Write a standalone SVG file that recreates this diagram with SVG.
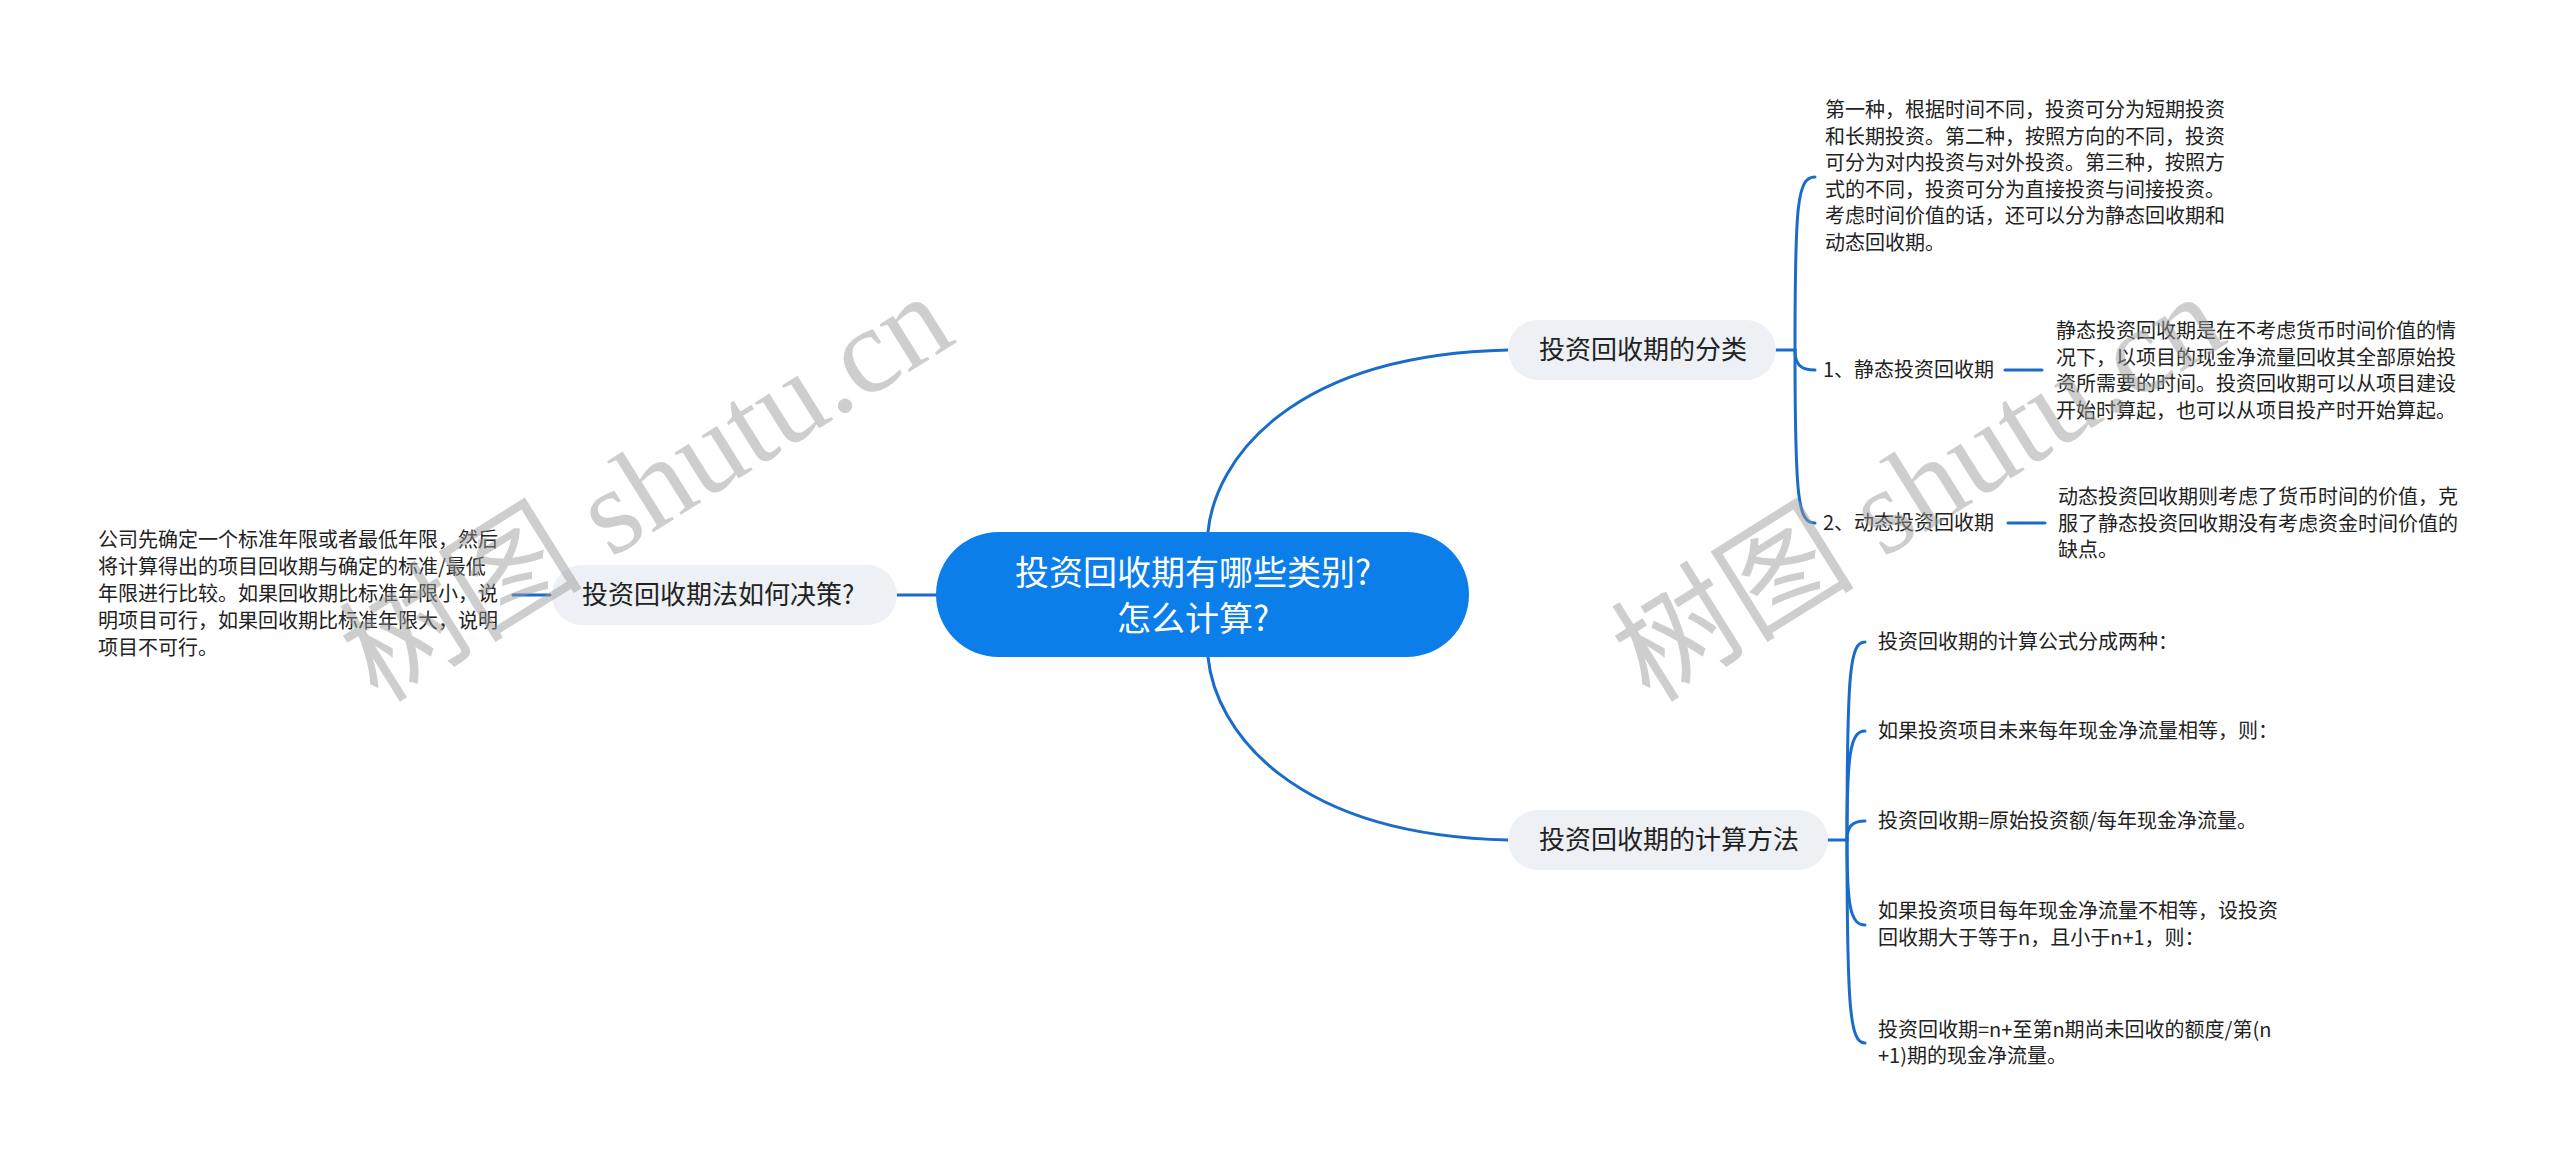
<svg xmlns="http://www.w3.org/2000/svg" width="2560" height="1162" viewBox="0 0 2560 1162">
<style>
text{font-family:"Noto Sans CJK SC","Noto Sans",sans-serif;fill:#222}
.d{font-size:20px}
.t{font-size:26px}
.c{font-size:34px;fill:#fff}
.topic{fill:#edf0f4}
.ln{fill:none;stroke:#1a6cca;stroke-width:3;stroke-linecap:round}
.wm{font-family:"Liberation Serif","Noto Sans CJK SC",serif;font-size:122px;fill:#9a9a9a;opacity:0.48}
</style>
<defs>
<clipPath id="wmclip"><rect x="0" y="0" width="2235" height="1162"/></clipPath>
</defs>
<rect width="2560" height="1162" fill="#fff"/>
<g id="connectors">
<path class="ln" d="M1208,532 C1215,460 1290,355 1508,350"/>
<path class="ln" d="M1208,657 C1215,729 1290,835 1508,840"/>
<path class="ln" d="M936,595 L897,595"/>
<path class="ln" d="M550,595 L513,595"/>
<path class="ln" d="M1776,350 L1795,350"/>
<path class="ln" d="M1795,350 C1795,205 1797,177 1815,177"/>
<path class="ln" d="M1795,350 C1795,364 1800,370 1815,370"/>
<path class="ln" d="M1795,350 C1795,500 1798,523 1815,523"/>
<path class="ln" d="M2005,370 L2042,370"/>
<path class="ln" d="M2008,523 L2045,523"/>
<path class="ln" d="M1827,840 L1847,840"/>
<path class="ln" d="M1847,840 C1847,670 1850,642 1865,642"/>
<path class="ln" d="M1847,840 C1847,755 1850,731 1865,731"/>
<path class="ln" d="M1847,840 C1847,828 1851,821 1865,821"/>
<path class="ln" d="M1847,840 C1847,905 1850,925 1865,925"/>
<path class="ln" d="M1847,840 C1847,1010 1850,1043 1865,1043"/>
</g>
<g id="central">
<rect x="936" y="532" width="533" height="125" rx="62.5" fill="#0c7ee9"/>
<text class="c" x="1193" y="585" text-anchor="middle">投资回收期有哪些类别?</text>
<text class="c" x="1193" y="631" text-anchor="middle">怎么计算?</text>
</g>
<g id="decision">
<rect class="topic" x="552" y="565" width="345" height="60" rx="30"/>
<text class="t" x="582" y="604">投资回收期法如何决策?</text>
</g>
<g id="decision-desc">
<text class="d" x="98" y="547">公司先确定一个标准年限或者最低年限，然后</text>
<text class="d" x="98" y="574">将计算得出的项目回收期与确定的标准/最低</text>
<text class="d" x="98" y="601">年限进行比较。如果回收期比标准年限小，说</text>
<text class="d" x="98" y="628">明项目可行，如果回收期比标准年限大，说明</text>
<text class="d" x="98" y="655">项目不可行。</text>
</g>
<g id="classify">
<rect class="topic" x="1508" y="320" width="268" height="60" rx="30"/>
<text class="t" x="1539" y="359">投资回收期的分类</text>
</g>
<g id="classify-desc">
<text class="d" x="1825" y="117">第一种，根据时间不同，投资可分为短期投资</text>
<text class="d" x="1825" y="143.5">和长期投资。第二种，按照方向的不同，投资</text>
<text class="d" x="1825" y="170">可分为对内投资与对外投资。第三种，按照方</text>
<text class="d" x="1825" y="196.5">式的不同，投资可分为直接投资与间接投资。</text>
<text class="d" x="1825" y="223">考虑时间价值的话，还可以分为静态回收期和</text>
<text class="d" x="1825" y="249.5">动态回收期。</text>
</g>
<g id="static">
<text class="d" x="1823" y="377">1、静态投资回收期</text>
</g>
<g id="static-desc">
<text class="d" x="2056" y="338">静态投资回收期是在不考虑货币时间价值的情</text>
<text class="d" x="2056" y="364.5">况下，以项目的现金净流量回收其全部原始投</text>
<text class="d" x="2056" y="391">资所需要的时间。投资回收期可以从项目建设</text>
<text class="d" x="2056" y="417.5">开始时算起，也可以从项目投产时开始算起。</text>
</g>
<g id="dynamic">
<text class="d" x="1823" y="530">2、动态投资回收期</text>
</g>
<g id="dynamic-desc">
<text class="d" x="2058" y="504">动态投资回收期则考虑了货币时间的价值，克</text>
<text class="d" x="2058" y="530.5">服了静态投资回收期没有考虑资金时间价值的</text>
<text class="d" x="2058" y="557">缺点。</text>
</g>
<g id="calc">
<rect class="topic" x="1508" y="810" width="320" height="60" rx="30"/>
<text class="t" x="1539" y="849">投资回收期的计算方法</text>
</g>
<g id="calc-1"><text class="d" x="1878" y="649">投资回收期的计算公式分成两种：</text></g>
<g id="calc-2"><text class="d" x="1878" y="738">如果投资项目未来每年现金净流量相等，则：</text></g>
<g id="calc-3"><text class="d" x="1878" y="828">投资回收期=原始投资额/每年现金净流量。</text></g>
<g id="calc-4">
<text class="d" x="1878" y="918">如果投资项目每年现金净流量不相等，设投资</text>
<text class="d" x="1878" y="945">回收期大于等于n，且小于n+1，则：</text>
</g>
<g id="calc-5">
<text class="d" x="1878" y="1037">投资回收期=n+至第n期尚未回收的额度/第(n</text>
<text class="d" x="1878" y="1063">+1)期的现金净流量。</text>
</g>
<g id="watermark">
<text class="wm" transform="translate(378,704) rotate(-32)">树图 shutu.cn</text>
<g clip-path="url(#wmclip)"><text class="wm" transform="translate(1650,704) rotate(-32)">树图 shutu.cn</text></g>
</g>
</svg>
